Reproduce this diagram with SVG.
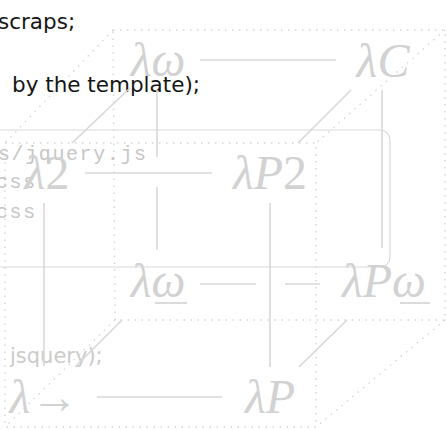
<svg xmlns="http://www.w3.org/2000/svg" width="447" height="430" viewBox="0 0 447 430">
<style>
.lbl{font-family:"Liberation Serif","DejaVu Serif",serif;font-style:italic;font-size:48px;fill:#d2d2d2;text-anchor:middle}
.up{font-style:normal}
.edge{stroke:#d8d8d8;stroke-width:1.6;fill:none}
.ul{stroke:#d2d2d2;stroke-width:1.6}
.dot{stroke:#d4d4d4;stroke-width:1.4;stroke-dasharray:1.4 5.6;fill:none}
.frame{stroke:#dadada;stroke-width:1.2;fill:none}
.ink{font-family:"DejaVu Sans","Liberation Sans",sans-serif;font-size:21.5px;fill:#151515}
.code{font-family:"Liberation Mono","DejaVu Sans Mono",monospace;font-size:20px;letter-spacing:1.6px;fill:#c6c6c6}
.ghost{font-family:"DejaVu Sans","Liberation Sans",sans-serif;font-size:21px;fill:#cbcbcb}
</style>
<rect width="447" height="430" fill="#ffffff"/>
<g id="frame-dotted">
<path class="dot" d="M113 30H445V320H115Z"/>
<path class="dot" d="M5 143H316V427H5Z"/>
<path class="dot" d="M113 30L5 143M445 30L316 143M115 320L5 427M445 320L316 427"/>
</g>
<rect id="panel" class="frame" x="-10" y="130" width="400" height="137" rx="10"/>
<g id="overlay-text">
<text class="ink" x="-2" y="29">scraps;</text>
<text class="ink" x="12" y="92">by the template);</text>
<text class="code" x="-2" y="160">s/jquery.js</text>
<text class="code" x="-4" y="188">css</text>
<text class="code" x="-4" y="218">css</text>
<text class="ghost" x="10" y="363">jsquery);</text>
</g>
<g id="connectors">
<path class="edge" d="M200 60H336"/>
<path class="edge" d="M85 173H212"/>
<path class="edge" d="M200 284H256M285 284H320"/>
<path class="edge" d="M97 397H222"/>
<path class="edge" d="M157 90V157M157 187V250"/>
<path class="edge" d="M382 90V248"/>
<path class="edge" d="M44 203V366"/>
<path class="edge" d="M270 203V367"/>
<path class="edge" d="M72 143L130 88"/>
<path class="edge" d="M298 143L351 90"/>
<path class="edge" d="M75 367L122 320"/>
<path class="edge" d="M299 367L347 320"/>
</g>
<g id="node-lw"><text class="lbl" x="158" y="76">λω</text></g>
<g id="node-lC"><text class="lbl" x="383" y="77">λC</text></g>
<g id="node-l2"><text class="lbl" x="47" y="189">λ<tspan class="up">2</tspan></text></g>
<g id="node-lP2"><text class="lbl" x="270" y="189">λP<tspan class="up">2</tspan></text></g>
<g id="node-lwu"><text class="lbl" x="158" y="297">λω</text><line class="ul" x1="155" y1="303" x2="187" y2="303"/></g>
<g id="node-lPwu"><text class="lbl" x="384" y="297">λPω</text><line class="ul" x1="400" y1="303" x2="430" y2="303"/></g>
<g id="node-larrow"><text class="lbl" x="44" y="413">λ<tspan class="up">→</tspan></text></g>
<g id="node-lP"><text class="lbl" x="270" y="413">λP</text></g>
</svg>
